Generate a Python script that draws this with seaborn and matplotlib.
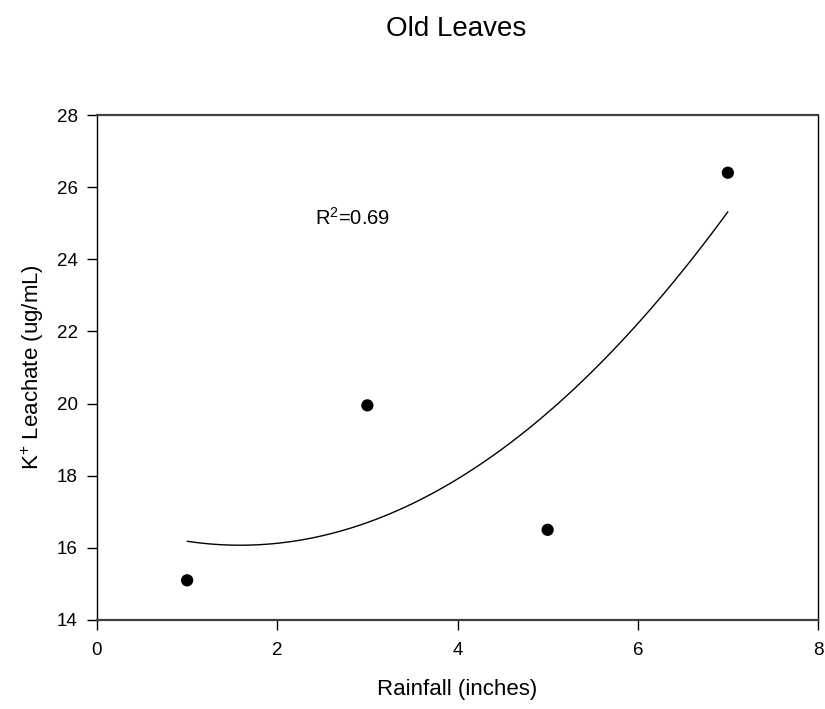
import numpy as np
import pandas as pd
import matplotlib
matplotlib.use("Agg")
import matplotlib.pyplot as plt
import seaborn as sns

# Rainfall treatment vs potassium leachate from old leaves
rainfall = [1, 3, 5, 7]
k_leachate = [15.1, 19.95, 16.5, 26.4]

x_ticks = [0, 2, 4, 6, 8]
y_ticks = [14, 16, 18, 20, 22, 24, 26, 28]

df = pd.DataFrame({"rainfall": rainfall, "k": k_leachate})

sns.set_style("ticks")
plt.rcParams["font.family"] = ["Liberation Sans", "DejaVu Sans"]
plt.rcParams["mathtext.fontset"] = "custom"
plt.rcParams["mathtext.rm"] = "Liberation Sans"
plt.rcParams["mathtext.it"] = "Liberation Sans"
plt.rcParams["text.color"] = "black"
plt.rcParams["axes.labelcolor"] = "black"

fig = plt.figure(figsize=(8.25, 7.09), dpi=100)
ax = fig.add_axes([97 / 825, 1 - 620 / 709, 721 / 825, 505 / 709])

# Second-order polynomial regression with the observations
sns.regplot(data=df, x="rainfall", y="k", order=2, ci=None, ax=ax,
            color="black",
            scatter_kws={"s": 78, "edgecolor": "none", "alpha": 1, "zorder": 3},
            line_kws={"lw": 1.0, "color": "black"})

# Coefficient of determination of the quadratic fit
coef = np.polyfit(rainfall, k_leachate, 2)
pred = np.polyval(coef, rainfall)
y = np.asarray(k_leachate)
r2 = 1 - np.sum((y - pred) ** 2) / np.sum((y - y.mean()) ** 2)
ax.text(2.42, 24.95, f"R$^{{2}}$={r2:.2f}", ha="left", va="baseline", fontsize=14.5)

ax.set_xlim(0, 8)
ax.set_ylim(14, 28)
ax.set_xticks(x_ticks)
ax.set_yticks(y_ticks)
ax.tick_params(direction="out", length=7, width=1, labelsize=13.5, colors="black")
ax.tick_params(axis="x", pad=9)
ax.tick_params(axis="y", pad=7)

for side in ["left", "right"]:
    ax.spines[side].set_visible(True)
    ax.spines[side].set_color("black")
    ax.spines[side].set_linewidth(1.0)
for side in ["top", "bottom"]:
    ax.spines[side].set_visible(True)
    ax.spines[side].set_color("#404040")
    ax.spines[side].set_linewidth(1.6)

ax.set_xlabel("Rainfall (inches)", fontsize=16)
ax.set_ylabel("K$^{+}$ Leachate (ug/mL)", fontsize=16)
ax.xaxis.label.set_va("center")
ax.yaxis.label.set_va("center")
ax.xaxis.set_label_coords(0.5, (620 - 690) / 505)
ax.yaxis.set_label_coords((33 - 97) / 721, 0.5)

fig.text(456 / 825, 1 - 29 / 709, "Old Leaves", ha="center", va="center", fontsize=20)

fig.savefig("out.png", dpi=100)
